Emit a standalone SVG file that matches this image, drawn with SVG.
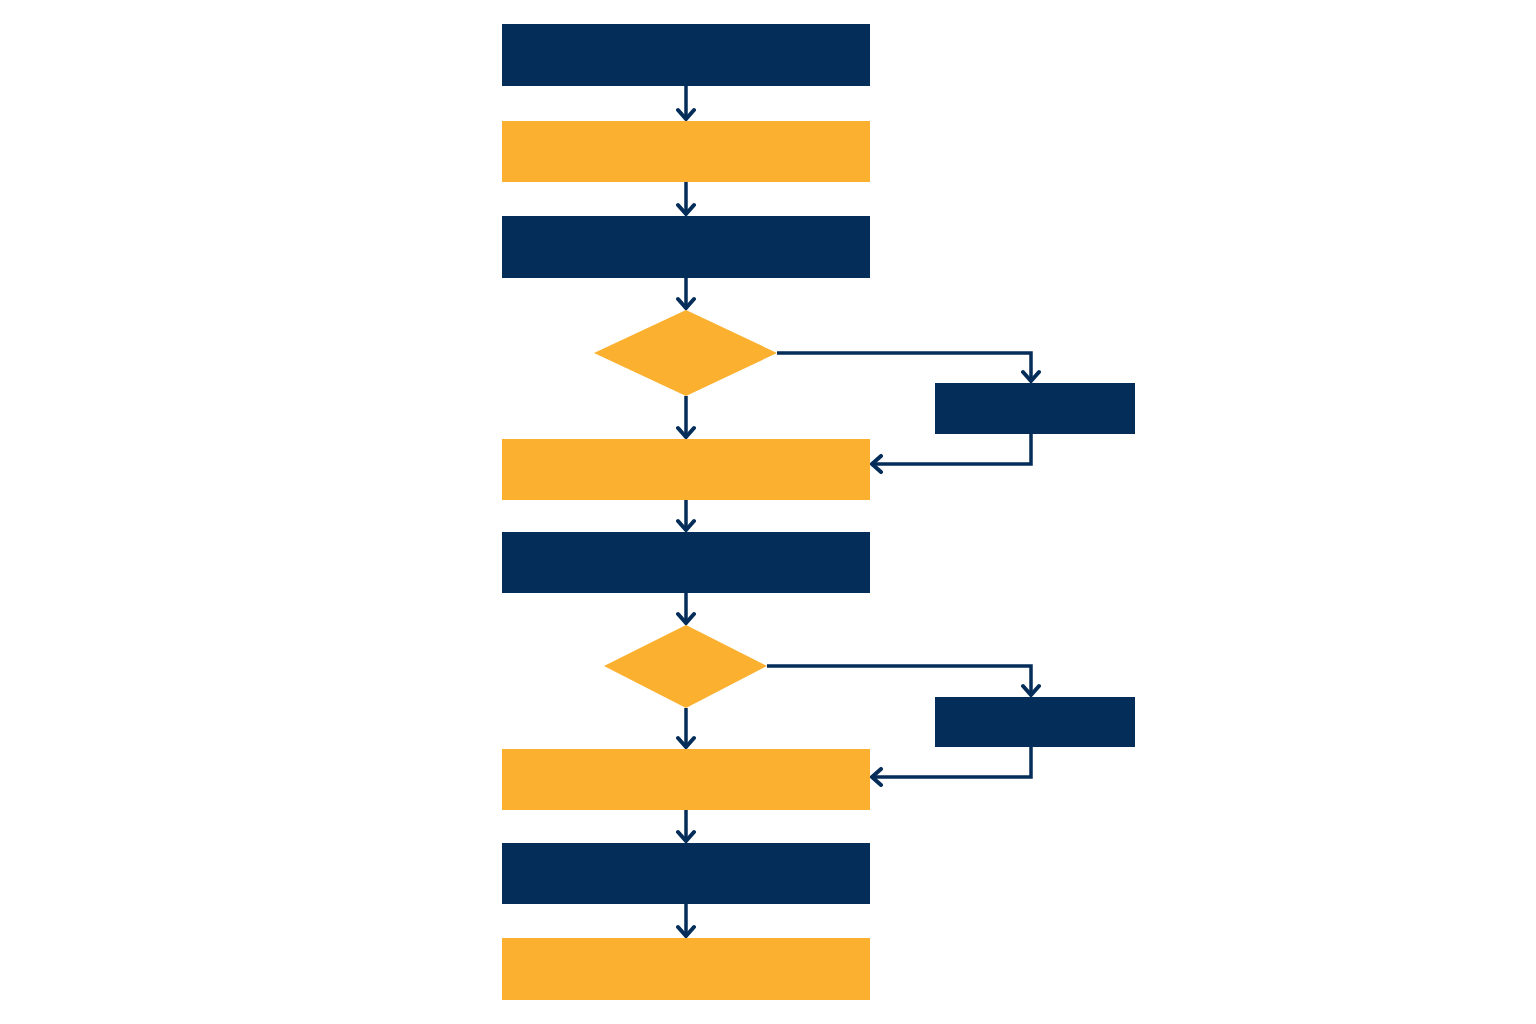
<svg xmlns="http://www.w3.org/2000/svg" width="1536" height="1024" viewBox="0 0 1536 1024">
<style>
.navy{fill:#042D5A}
.orange{fill:#FBB02F}
.conn{fill:none;stroke:#042D5A;stroke-width:3.5;marker-end:url(#arr)}
</style>
<defs>
<marker id="arr" markerUnits="userSpaceOnUse" markerWidth="20" markerHeight="20" refX="14" refY="10" orient="auto" viewBox="0 0 20 20">
<path d="M5,2 L14,10 L5,18" fill="none" stroke="#042D5A" stroke-width="4" stroke-linecap="round" stroke-linejoin="miter"/>
</marker>
</defs>
<rect width="1536" height="1024" fill="#ffffff"/>
<g id="connectors">
<path class="conn" d="M686,86 V119"/>
<path class="conn" d="M686,182 V214"/>
<path class="conn" d="M686,278 V308"/>
<path class="conn" d="M686,396 V437"/>
<path class="conn" d="M777,353 H1031 V381"/>
<path class="conn" d="M1031,434 V464 H872"/>
<path class="conn" d="M686,500 V530"/>
<path class="conn" d="M686,593 V623"/>
<path class="conn" d="M686,708 V747"/>
<path class="conn" d="M767,666 H1031 V695"/>
<path class="conn" d="M1031,747 V777 H872"/>
<path class="conn" d="M686,810 V841"/>
<path class="conn" d="M686,904 V936"/>
</g>
<g id="n1"><rect class="navy" x="502" y="24" width="368" height="62"/></g>
<g id="n2"><rect class="orange" x="502" y="121" width="368" height="61"/></g>
<g id="n3"><rect class="navy" x="502" y="216" width="368" height="62"/></g>
<g id="d1"><polygon class="orange" points="686,310 777,353 686,396 594,353"/></g>
<g id="s1"><rect class="navy" x="935" y="383" width="200" height="51"/></g>
<g id="n4"><rect class="orange" x="502" y="439" width="368" height="61"/></g>
<g id="n5"><rect class="navy" x="502" y="532" width="368" height="61"/></g>
<g id="d2"><polygon class="orange" points="686,625 767,666 686,708 604,666"/></g>
<g id="s2"><rect class="navy" x="935" y="697" width="200" height="50"/></g>
<g id="n6"><rect class="orange" x="502" y="749" width="368" height="61"/></g>
<g id="n7"><rect class="navy" x="502" y="843" width="368" height="61"/></g>
<g id="n8"><rect class="orange" x="502" y="938" width="368" height="62"/></g>
</svg>
